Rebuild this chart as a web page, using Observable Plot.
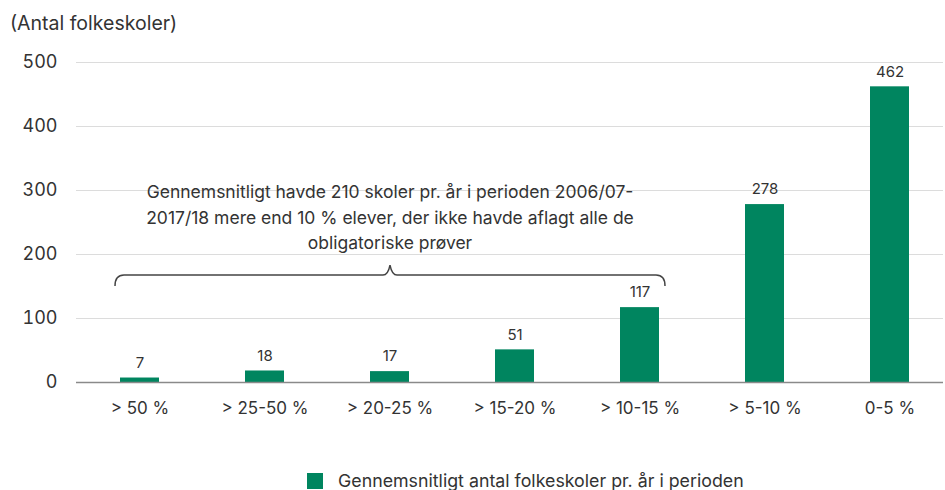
<!DOCTYPE html>
<html>
<head>
<meta charset="utf-8">
<script src="https://cdn.jsdelivr.net/npm/d3@7"></script>
<script src="https://cdn.jsdelivr.net/npm/@observablehq/plot@0.6"></script>
<style>
  html, body { margin: 0; padding: 0; background: #fff; }
  body { width: 945px; height: 490px; position: relative; overflow: hidden; font-family: Inter, Roboto, sans-serif; color: #333; }
  #title { position: absolute; left: 10px; top: 10px; font-size: 19.5px; line-height: 26px; color: #333; }
  #chart { position: absolute; left: 0; top: 40px; }
  #legend { position: absolute; left: 307px; top: 468px; font-size: 17.8px; line-height: 26px; color: #333; display: flex; align-items: center; }
  #legend .sw { width: 16px; height: 16px; background: #00855f; margin-right: 15px; }
</style>
</head>
<body>
<div id="title">(Antal folkeskoler)</div>
<div id="chart"></div>
<div id="legend"><span class="sw"></span><span>Gennemsnitligt antal folkeskoler pr. år i perioden</span></div>
<script>
const categories = ["> 50 %", "> 25-50 %", "> 20-25 %", "> 15-20 %", "> 10-15 %", "> 5-10 %", "0-5 %"];
const values = [7, 18, 17, 51, 117, 278, 462];
const yTicks = [0, 100, 200, 300, 400, 500];
const annotationText = "Gennemsnitligt havde 210 skoler pr. år i perioden 2006/07-\n2017/18 mere end 10 % elever, der ikke havde aflagt alle de\nobligatoriske prøver";
const annotationAt = {x: "> 20-25 %", y: 261};
const braceFrom = "> 50 %", braceTo = "> 10-15 %", braceY = 167;

const data = categories.map((c, i) => ({cat: c, value: values[i]}));
const green = "#00855f";

const plot = Plot.plot({
  width: 945,
  height: 420,
  marginLeft: 76,
  marginRight: 2,
  marginTop: 22,
  marginBottom: 78,
  style: {fontFamily: "Inter, Roboto, sans-serif", color: "#333", background: "#fff", overflow: "visible"},
  x: {domain: categories, range: [75.2, 954.4], paddingInner: 0.69, paddingOuter: 0.345, label: null},
  y: {domain: [0, 500], label: null},
  marks: [
    Plot.gridY(yTicks, {stroke: "#dcdcdc", strokeOpacity: 1, strokeWidth: 1}),
    Plot.barY(data, {x: "cat", y: "value", fill: green}),
    Plot.ruleY([0], {stroke: "#8a8a8a", strokeWidth: 1.5}),
    Plot.axisY(yTicks, {tickSize: 0, tickPadding: 19, fontSize: 18, fill: "#333", label: null}),
    Plot.axisX({tickSize: 0, tickPadding: 19, fontSize: 17, fill: "#333", label: null}),
    Plot.text(data, {x: "cat", y: "value", text: d => String(d.value), dy: -15, fontSize: 15, fill: "#333"}),
    Plot.text([annotationAt], {x: "x", y: "y", text: () => annotationText, fontSize: 17.5, lineHeight: 1.46, fill: "#333"})
  ]
});
document.getElementById("chart").appendChild(plot);

// curly brace drawn from the plot's own scales
const xs = plot.scale("x"), ys = plot.scale("y");
const bw = xs.bandwidth;
const x1 = xs.apply(braceFrom) - 5;
const x2 = xs.apply(braceTo) + bw + 6;
const cx = (x1 + x2) / 2;
const yb = ys.apply(braceY);
const p = `M${x1},${yb + 11} Q${x1},${yb} ${x1 + 9},${yb} L${cx - 7},${yb} Q${cx - 2},${yb} ${cx},${yb - 10} Q${cx + 2},${yb} ${cx + 7},${yb} L${x2 - 9},${yb} Q${x2},${yb} ${x2},${yb + 11}`;
d3.select(plot).append("path").attr("d", p).attr("fill", "none").attr("stroke", "#444").attr("stroke-width", 1.5);
</script>
</body>
</html>
